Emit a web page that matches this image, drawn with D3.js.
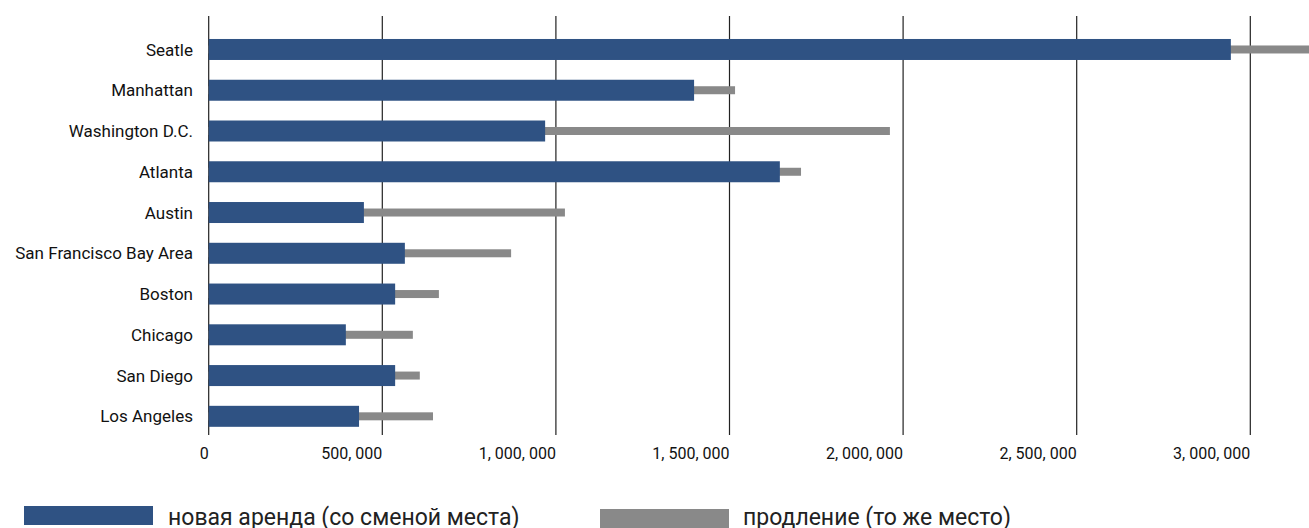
<!DOCTYPE html>
<html>
<head>
<meta charset="utf-8">
<script src="https://cdn.jsdelivr.net/npm/d3@7"></script>
<style>
  body { margin: 0; background: #fff; }
  svg text { font-family: Roboto, "DejaVu Sans", sans-serif; fill: #111; }
</style>
</head>
<body>
<div id="chart"></div>
<script>
const cities = ["Seatle", "Manhattan", "Washington D.C.", "Atlanta", "Austin",
  "San Francisco Bay Area", "Boston", "Chicago", "San Diego", "Los Angeles"]
// новая аренда (со сменой места)
const newLease = [2944000, 1398000, 969000, 1645000, 447000, 565000, 537000, 395000, 537000, 433000]
// продление (то же место)
const renewal = [3300000, 1516000, 1962000, 1706000, 1026000, 871000, 663000, 588000, 608000, 646000]
const tickValues = [0, 500000, 1000000, 1500000, 2000000, 2500000, 3000000]
const tickLabels = ["0", "500, 000", "1, 000, 000", "1, 500, 000", "2, 000, 000", "2, 500, 000", "3, 000, 000"]
const legendNames = ["новая аренда (со сменой места)", "продление (то же место)"]
const colors = ["#2f5283", "#898989"]

const w = 1309
const h = 528

const svg = d3.select("#chart")
  .append("svg")
  .attr("width", w)
  .attr("height", h)

const x = d3.scaleLinear()
  .domain([0, 3500000])
  .range([208.7, 1423.9])

const y = d3.scaleBand()
  .domain(cities)
  .range([29.1, 436.7])
  .paddingInner(0.485)
  .paddingOuter(0.2425)

// grid lines
svg.selectAll("line.grid")
  .data(tickValues)
  .enter()
  .append("line")
  .attr("class", "grid")
  .attr("x1", d => x(d))
  .attr("x2", d => x(d))
  .attr("y1", 16)
  .attr("y2", 435)
  .attr("stroke", "#222")
  .attr("stroke-width", 1.2)

// tick labels
svg.selectAll("text.tick")
  .data(tickValues)
  .enter()
  .append("text")
  .attr("class", "tick")
  .attr("x", d => x(d))
  .attr("y", 459)
  .attr("text-anchor", "end")
  .attr("font-size", 16)
  .text((d, i) => tickLabels[i])

// grey bars (behind)
const thin = 8
svg.selectAll("rect.renewal")
  .data(cities)
  .enter()
  .append("rect")
  .attr("class", "renewal")
  .attr("x", x(0))
  .attr("y", d => y(d) + y.bandwidth() / 2 - thin / 2)
  .attr("width", (d, i) => x(renewal[i]) - x(0))
  .attr("height", thin)
  .attr("fill", colors[1])

// blue bars
svg.selectAll("rect.newlease")
  .data(cities)
  .enter()
  .append("rect")
  .attr("class", "newlease")
  .attr("x", x(0))
  .attr("y", d => y(d))
  .attr("width", (d, i) => x(newLease[i]) - x(0))
  .attr("height", y.bandwidth())
  .attr("fill", colors[0])

// category labels
svg.selectAll("text.city")
  .data(cities)
  .enter()
  .append("text")
  .attr("class", "city")
  .attr("x", 193)
  .attr("y", d => y(d) + y.bandwidth() / 2)
  .attr("dy", "0.36em")
  .attr("text-anchor", "end")
  .attr("font-size", 17)
  .text(d => d)

// legend
const legend = [
  { x: 24, y: 506, tx: 168 },
  { x: 600, y: 509, tx: 743 }
]
legend.forEach((l, i) => {
  svg.append("rect")
    .attr("x", l.x)
    .attr("y", l.y)
    .attr("width", 129)
    .attr("height", 19)
    .attr("fill", colors[i])
  svg.append("text")
    .attr("x", l.tx)
    .attr("y", 525)
    .attr("font-family", "Inter, Roboto, sans-serif")
    .attr("font-size", 23)
    .style("fill", "#222")
    .text(legendNames[i])
})
</script>
</body>
</html>
